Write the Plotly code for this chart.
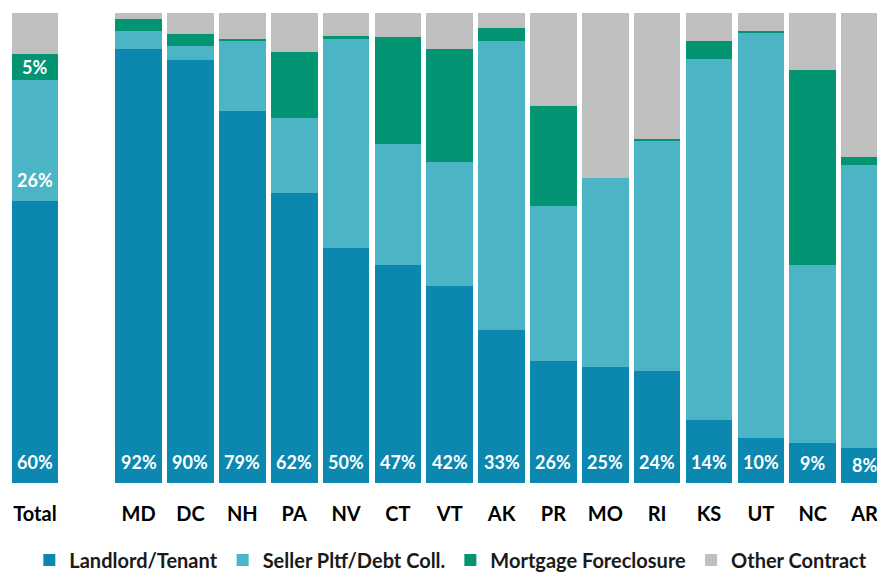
import plotly.graph_objects as go

categories = ["Total", " ", "MD", "DC", "NH", "PA", "NV", "CT", "VT", "AK", "PR", "MO", "RI", "KS", "UT", "NC", "AR"]
landlord = [60.0, None, 92.3, 90.0, 79.2, 61.7, 50.1, 46.3, 42.0, 32.6, 26.0, 24.6, 23.9, 13.5, 9.6, 8.6, 7.5]
seller = [25.7, None, 3.8, 2.9, 14.9, 16.0, 44.4, 25.8, 26.3, 61.4, 32.9, 40.4, 48.9, 76.7, 86.1, 37.8, 60.2]
mortgage = [5.5, None, 2.7, 2.6, 0.4, 14.0, 0.6, 22.9, 24.0, 2.9, 21.3, 0.0, 0.4, 3.8, 0.5, 41.5, 1.6]
other = [8.8, None, 1.2, 4.5, 5.5, 8.3, 4.9, 5.0, 7.7, 3.1, 19.8, 35.0, 26.8, 6.0, 3.8, 12.1, 30.7]
landlord_labels = ["60%", "", "92%", "90%", "79%", "62%", "50%", "47%", "42%", "33%", "26%", "25%", "24%", "14%", "10%", "9%", "8%"]
seller_labels = ["26%"] + [""] * 16
mortgage_labels = ["5%"] + [""] * 16

series = [
    ("Landlord/Tenant", landlord, "#0B87B0"),
    ("Seller Pltf/Debt Coll.", seller, "#4BB5C5"),
    ("Mortgage Foreclosure", mortgage, "#039474"),
    ("Other Contract", other, "#BFBFBF"),
]

FONT = "Lato"
fig = go.Figure()
for name, vals, color in series:
    fig.add_trace(go.Bar(
        x=categories, y=vals, name=name,
        marker=dict(color=color, line=dict(width=0)),
        hoverinfo="skip",
    ))

PX_PER_UNIT = 470 / 100.0
LBL_FONT = dict(family=FONT, size=18, color="white", weight="bold")
annotations = []
for i, cat in enumerate(categories):
    if landlord[i] is None:
        continue
    h = landlord[i] * PX_PER_UNIT
    annotations.append(dict(
        x=cat, y=0, text=landlord_labels[i], showarrow=False,
        yanchor="middle", yshift=min(21.5, h / 2), font=LBL_FONT,
    ))
    if seller_labels[i]:
        annotations.append(dict(
            x=cat, y=landlord[i], text=seller_labels[i], showarrow=False,
            yanchor="middle", yshift=21, font=LBL_FONT,
        ))
    if mortgage_labels[i]:
        annotations.append(dict(
            x=cat, y=landlord[i] + seller[i], text=mortgage_labels[i], showarrow=False,
            yanchor="middle", yshift=mortgage[i] * PX_PER_UNIT / 2, font=LBL_FONT,
        ))

fig.update_layout(
    barmode="stack",
    bargap=0.1,
    width=877, height=573,
    margin=dict(l=9, r=0, t=13, b=90, autoexpand=False),
    paper_bgcolor="white", plot_bgcolor="white",
    font=dict(family=FONT, size=20, color="black", weight="bold"),
    showlegend=True,
    legend=dict(
        orientation="h", x=0.509, xanchor="center", y=-0.164, yanchor="middle",
        font=dict(family=FONT, size=20, color="#1a1a1a", weight="bold"),
        traceorder="normal", itemwidth=30, tracegroupgap=0,
    ),
    annotations=annotations,
)
fig.update_xaxes(
    type="category", categoryorder="array", categoryarray=categories,
    range=[-0.5, 16.24], showline=False, ticks="", showgrid=False,
    ticklabelstandoff=17, automargin=False,
    tickfont=dict(family=FONT, size=20, color="black", weight="bold"),
)
fig.update_yaxes(range=[0, 100], visible=False, showgrid=False, fixedrange=True)

fig.write_html("out.html", config={"displayModeBar": False},
               post_script="document.body.style.margin='0';")
